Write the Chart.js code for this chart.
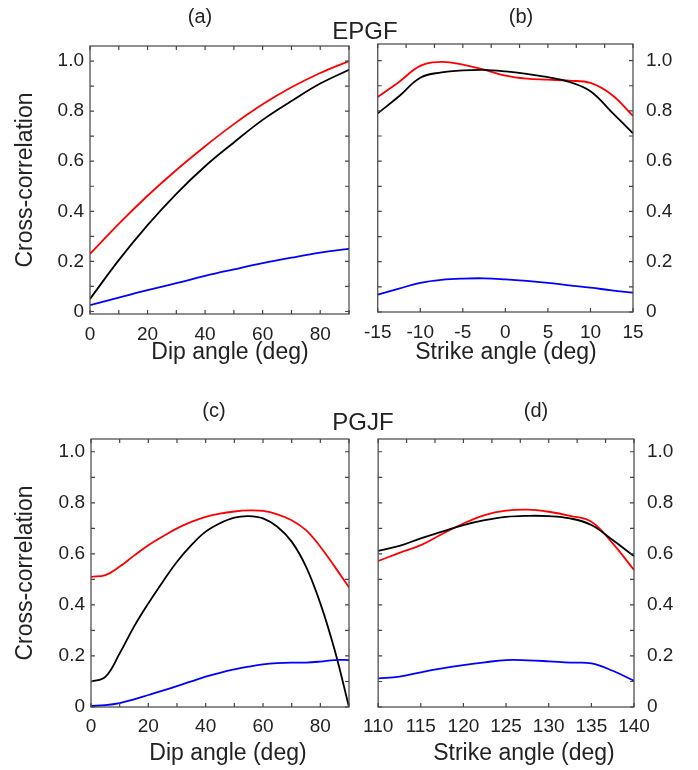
<!DOCTYPE html>
<html>
<head>
<meta charset="utf-8">
<script src="https://cdn.jsdelivr.net/npm/chart.js@4"></script>
<style>
  body { margin: 0; background: #fff; width: 698px; height: 770px; position: relative; overflow: hidden; }
  .panel { position: absolute; }
  .lbl { position: absolute; font-family: "Liberation Sans", Arial, sans-serif; color: #222; transform: translate(-50%, -50%); line-height: 1; white-space: nowrap; }
</style>
</head>
<body>
<div class="panel" style="left:0;top:0;width:355px;height:385px"><canvas id="chartA"></canvas></div>
<div class="panel" style="left:355px;top:0;width:343px;height:385px"><canvas id="chartB"></canvas></div>
<div class="panel" style="left:0;top:385px;width:355px;height:385px"><canvas id="chartC"></canvas></div>
<div class="panel" style="left:355px;top:385px;width:343px;height:385px"><canvas id="chartD"></canvas></div>

<div class="lbl" style="left:200px;top:16px;font-size:20px">(a)</div>
<div class="lbl" style="left:521px;top:16px;font-size:20px">(b)</div>
<div class="lbl" style="left:365px;top:31px;font-size:24px">EPGF</div>
<div class="lbl" style="left:214px;top:410px;font-size:20px">(c)</div>
<div class="lbl" style="left:536px;top:410px;font-size:20px">(d)</div>
<div class="lbl" style="left:363px;top:422px;font-size:24px">PGJF</div>
<div class="lbl" style="left:230px;top:351px;font-size:23px">Dip angle (deg)</div>
<div class="lbl" style="left:506px;top:351px;font-size:23px">Strike angle (deg)</div>
<div class="lbl" style="left:228px;top:752px;font-size:23px">Dip angle (deg)</div>
<div class="lbl" style="left:524px;top:752px;font-size:23px">Strike angle (deg)</div>

<script>
// (a) EPGF, dip
const dipA = [0, 10, 20, 30, 40, 50, 60, 70, 80, 90];
const redA = [0.23, 0.35, 0.462, 0.565, 0.66, 0.748, 0.827, 0.895, 0.952, 1.0];
const blackA = [0.05, 0.205, 0.345, 0.47, 0.58, 0.675, 0.765, 0.84, 0.91, 0.965];
const blueA = [0.025, 0.055, 0.085, 0.113, 0.142, 0.168, 0.193, 0.215, 0.235, 0.25];

// (b) EPGF, strike
const strikeB = [-15, -12.5, -10, -7.5, -5, -2.5, 0, 2.5, 5, 7.5, 10, 12.5, 15];
const redB = [0.855, 0.915, 0.979, 0.995, 0.984, 0.964, 0.94, 0.928, 0.924, 0.92, 0.911, 0.864, 0.78];
const blackB = [0.79, 0.858, 0.932, 0.953, 0.961, 0.963, 0.957, 0.947, 0.934, 0.915, 0.878, 0.795, 0.711];
const blueB = [0.069, 0.093, 0.116, 0.128, 0.133, 0.134, 0.13, 0.124, 0.116, 0.106, 0.097, 0.086, 0.077];

// (c) PGJF, dip
const dipC = [0, 5, 10, 15, 20, 25, 30, 35, 40, 45, 50, 55, 60, 65, 70, 75, 80, 85, 90];
const redC = [0.51, 0.517, 0.55, 0.593, 0.634, 0.668, 0.70, 0.725, 0.745, 0.758, 0.766, 0.77, 0.768, 0.755, 0.732, 0.693, 0.628, 0.55, 0.469];
const blackC = [0.099, 0.118, 0.21, 0.315, 0.406, 0.49, 0.569, 0.634, 0.687, 0.72, 0.742, 0.748, 0.739, 0.706, 0.648, 0.55, 0.406, 0.223, 0.0];
const blueC = [0.004, 0.007, 0.015, 0.03, 0.047, 0.064, 0.082, 0.1, 0.119, 0.134, 0.147, 0.158, 0.167, 0.172, 0.174, 0.174, 0.178, 0.184, 0.184];

// (d) PGJF, strike
const strikeD = [110, 112.5, 115, 117.5, 120, 122.5, 125, 127.5, 130, 132.5, 135, 137.5, 140];
const redD = [0.572, 0.604, 0.634, 0.678, 0.719, 0.752, 0.769, 0.773, 0.765, 0.749, 0.726, 0.641, 0.537];
const blackD = [0.612, 0.631, 0.661, 0.687, 0.713, 0.732, 0.745, 0.749, 0.748, 0.739, 0.713, 0.654, 0.591];
const blueD = [0.112, 0.119, 0.136, 0.151, 0.164, 0.175, 0.184, 0.183, 0.179, 0.174, 0.171, 0.142, 0.103];

const FONT = '"Liberation Sans", Arial, sans-serif';
const INK = '#222';

// frame + inward tick marks on all four sides
const frameTicks = {
  id: 'frameTicks',
  afterDatasetsDraw(chart, args, opts) {
    const { ctx, chartArea: a, scales: { x, y } } = chart;
    const len = 4;
    ctx.save();
    ctx.strokeStyle = '#444';
    ctx.lineWidth = 1.2;
    ctx.beginPath();
    for (let i = 0; x.min + i * opts.xStep <= x.max + 1e-9; i++) {
      const px = x.getPixelForValue(x.min + i * opts.xStep);
      ctx.moveTo(px, a.bottom); ctx.lineTo(px, a.bottom - len);
    }
    for (let i = 0; x.min + i * opts.xTopStep <= x.max + 1e-9; i++) {
      const px = x.getPixelForValue(x.min + i * opts.xTopStep);
      ctx.moveTo(px, a.top); ctx.lineTo(px, a.top + len);
    }
    for (let i = 0; i * 0.1 <= y.max; i++) {
      const py = y.getPixelForValue(i * 0.1);
      ctx.moveTo(a.left, py); ctx.lineTo(a.left + len, py);
      ctx.moveTo(a.right, py); ctx.lineTo(a.right - len, py);
    }
    ctx.stroke();
    ctx.strokeRect(a.left, a.top, a.right - a.left, a.bottom - a.top);
    ctx.restore();
  }
};

function series(xs, ys, color) {
  return {
    data: xs.map((v, i) => ({ x: v, y: ys[i] })),
    borderColor: color,
    borderWidth: 1.8,
    pointRadius: 0,
    fill: false,
    tension: 0.4
  };
}

// p: canvas size, chart area box, axis ranges
function makePanel(id, p) {
  const yRight = p.yPos === 'right';
  new Chart(document.getElementById(id), {
    type: 'line',
    data: {
      datasets: [
        series(p.xs, p.blue, '#0000ff'),
        series(p.xs, p.black, '#000000'),
        series(p.xs, p.red, '#ff0000')
      ]
    },
    options: {
      responsive: true,
      maintainAspectRatio: false,
      animation: false,
      events: [],
      layout: {
        padding: {
          left: yRight ? p.left : 0,
          right: yRight ? 0 : p.w - p.right,
          top: p.top,
          bottom: 0
        }
      },
      plugins: {
        legend: { display: false },
        tooltip: { enabled: false },
        frameTicks: { xStep: p.xStep, xTopStep: p.xTopStep }
      },
      scales: {
        x: {
          type: 'linear',
          position: 'bottom',
          min: p.xMin, max: p.xMax,
          grid: { display: false, drawTicks: false },
          border: { display: false },
          ticks: {
            stepSize: p.xLabelStep,
            includeBounds: false,
            padding: p.xPad,
            color: INK,
            font: { family: FONT, size: 19 },
            maxRotation: 0,
            autoSkip: false
          },
          afterFit(s) { s.height = p.h - p.bottom; }
        },
        y: {
          type: 'linear',
          position: p.yPos,
          min: p.yMin, max: p.yMax,
          grid: { display: false, drawTicks: false },
          border: { display: false },
          ticks: {
            stepSize: 0.2,
            includeBounds: false,
            padding: p.yPad,
            color: INK,
            font: { family: FONT, size: 19 },
            callback: v => Math.abs(v) < 1e-9 ? '0' : v.toFixed(1)
          },
          title: {
            display: !yRight,
            text: 'Cross-correlation',
            color: INK,
            font: { family: FONT, size: 23 },
            padding: { top: 12, bottom: 0 }
          },
          afterFit(s) { s.width = yRight ? p.w - p.right : p.left; }
        }
      }
    },
    plugins: [frameTicks]
  });
}

makePanel('chartA', {
  w: 355, h: 385, left: 90, right: 349, top: 46, bottom: 314,
  xs: dipA, red: redA, black: blackA, blue: blueA,
  xMin: 0, xMax: 90, xLabelStep: 20, xStep: 10, xTopStep: 10,
  yMin: -0.01, yMax: 1.06, yPos: 'left', xPad: 9, yPad: 6
});

makePanel('chartB', {
  w: 343, h: 385, left: 20, right: 278, top: 44, bottom: 312,
  xs: strikeB, red: redB, black: blackB, blue: blueB,
  xMin: -15, xMax: 15, xLabelStep: 5, xStep: 5, xTopStep: 30 / 9,
  yMin: 0, yMax: 1.066, yPos: 'right', xPad: 9, yPad: 13
});

makePanel('chartC', {
  w: 355, h: 385, left: 91, right: 349, top: 54, bottom: 322,
  xs: dipC, red: redC, black: blackC, blue: blueC,
  xMin: 0, xMax: 90, xLabelStep: 20, xStep: 10, xTopStep: 10,
  yMin: 0, yMax: 1.05, yPos: 'left', xPad: 8, yPad: 6
});

makePanel('chartD', {
  w: 343, h: 385, left: 20, right: 279, top: 54, bottom: 322,
  xs: strikeD, red: redD, black: blackD, blue: blueD,
  xMin: 110, xMax: 140, xLabelStep: 5, xStep: 5, xTopStep: 30 / 9,
  yMin: 0, yMax: 1.05, yPos: 'right', xPad: 8, yPad: 13
});
</script>
</body>
</html>
